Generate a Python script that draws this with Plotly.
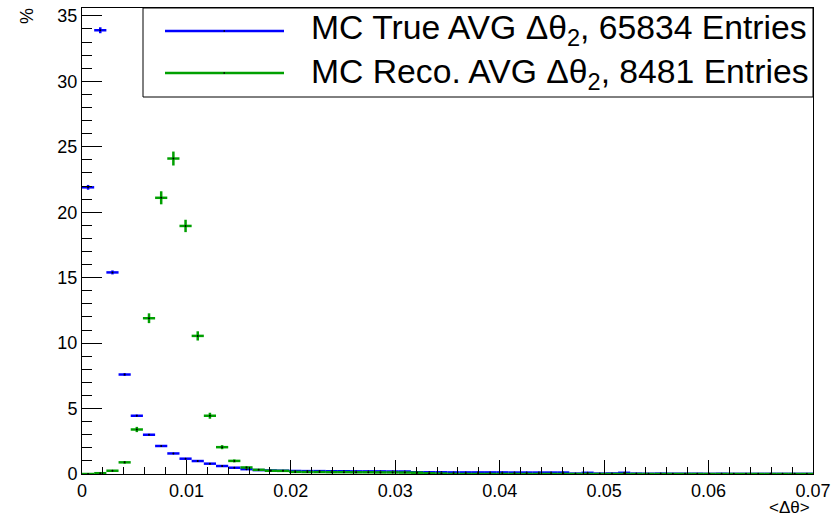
import numpy as np
import plotly.graph_objects as go

# ---- data (percent per bin, 60 bins from 0 to 0.07) ----
x_min, x_max, n_bins = 0.0, 0.07, 60
true_entries = 65834
reco_entries = 8481

true_pct = [21.9, 33.9, 15.4, 7.6, 4.45, 3.0, 2.14, 1.57, 1.17, 0.99,
            0.79, 0.61, 0.48, 0.37, 0.30, 0.27, 0.25, 0.23, 0.22, 0.22,
            0.21, 0.21, 0.20, 0.20, 0.20, 0.19, 0.19, 0.13, 0.13, 0.13,
            0.12, 0.12, 0.12, 0.12, 0.12, 0.11, 0.11, 0.11, 0.11, 0.11,
            0.03, 0.09, 0.03, 0.04, 0.09, 0.03, 0.02, 0.03, 0.02, 0.02,
            0.02, 0.01, 0.02, 0.01, 0.01, 0.01, 0.01, 0.01, 0.01, 0.01]

reco_pct = [0.0, 0.06, 0.25, 0.89, 3.4, 11.9, 21.1, 24.1, 18.95, 10.55,
            4.45, 2.05, 1.0, 0.5, 0.32, 0.25, 0.24, 0.16, 0.15, 0.15,
            0.14, 0.14, 0.13, 0.13, 0.12, 0.12, 0.11, 0.10, 0.05, 0.03,
            0.0, 0.0, 0.0, 0.0, 0.0, 0.0, 0.0, 0.0, 0.0, 0.0,
            0.0, 0.0, 0.0, 0.0, 0.0, 0.0, 0.0, 0.0, 0.0, 0.0,
            0.0, 0.0, 0.0, 0.0, 0.0, 0.0, 0.0, 0.0, 0.0, 0.0]

labels = ["MC True AVG \u0394\u03b8<sub>2</sub>, 65834 Entries",
          "MC Reco. AVG \u0394\u03b8<sub>2</sub>, 8481 Entries"]
colors = ["#0000ff", "#00a000"]

bw = (x_max - x_min) / n_bins
centers = x_min + bw * (np.arange(n_bins) + 0.5)


def stat_err(pct, n):
    p = np.asarray(pct) / 100.0
    return np.sqrt(p * n) / n * 100.0


fig = go.Figure()
for vals, n, col in [(true_pct, true_entries, colors[0]), (reco_pct, reco_entries, colors[1])]:
    fig.add_trace(go.Scatter(
        x=centers, y=vals, mode="markers",
        marker=dict(color="black", size=2),
        error_x=dict(type="constant", value=bw / 2, color=col, thickness=2.5, width=0),
        error_y=dict(type="data", array=stat_err(vals, n), color=col, thickness=2.5, width=0),
        showlegend=False, hoverinfo="x+y"))

# pixel -> paper helpers
L, R, T, B = 82, 813, 8, 474
def px(v):
    return (v - L) / (R - L)
def py(v):
    return (B - v) / (B - T)

FONT = "Liberation Sans, Arial"
shapes = [dict(type="rect", xref="paper", yref="paper",
               x0=px(143), x1=px(813), y0=py(97), y1=py(8),
               line=dict(color="black", width=1), fillcolor="white", layer="above")]
annotations = []
for i, (lab, col) in enumerate(zip(labels, colors)):
    yl = [31, 73][i]
    shapes.append(dict(type="line", xref="paper", yref="paper",
                       x0=px(165), x1=px(284), y0=py(yl), y1=py(yl),
                       line=dict(color=col, width=2.5), layer="above"))
    shapes.append(dict(type="rect", xref="paper", yref="paper",
                       x0=px(223.5), x1=px(225), y0=py(yl - 0.75), y1=py(yl + 0.75),
                       line=dict(width=0), fillcolor="black", layer="above"))
    annotations.append(dict(text=lab, xref="paper", yref="paper",
                            x=px(309), y=py([30, 73][i]), xanchor="left", yanchor="middle",
                            showarrow=False,
                            font=dict(family=FONT, size=33.7, color="black")))

annotations.append(dict(text="%", xref="paper", yref="paper", x=px(27), y=py(16),
                        textangle=-90, showarrow=False, xanchor="center", yanchor="middle",
                        font=dict(family=FONT, size=18, color="black")))
annotations.append(dict(text="<\u0394\u03b8>", xref="paper", yref="paper", x=px(812), y=py(507),
                        showarrow=False, xanchor="right", yanchor="middle",
                        font=dict(family=FONT, size=17, color="black")))

fig.update_layout(
    width=834, height=517,
    margin=dict(l=L, r=834 - R, t=T, b=517 - B, autoexpand=False),
    paper_bgcolor="white", plot_bgcolor="white",
    font=dict(family=FONT, size=18, color="black"),
    shapes=shapes, annotations=annotations,
    xaxis=dict(range=[x_min, x_max], dtick=0.01, tick0=0, ticks="inside", ticklen=14,
               tickwidth=1, tickcolor="black", showgrid=False, zeroline=False,
               showline=True, mirror=True, linecolor="black", linewidth=1, automargin=False,
               minor=dict(dtick=0.002, ticklen=7, ticks="inside", tickcolor="black", tickwidth=1),
               tickfont=dict(size=18)),
    yaxis=dict(range=[0, 35.6], dtick=5, tick0=0, ticks="inside", ticklen=20,
               tickwidth=1, tickcolor="black", showgrid=False, zeroline=False,
               showline=True, mirror=True, linecolor="black", linewidth=1, automargin=False,
               minor=dict(dtick=1, ticklen=10, ticks="inside", tickcolor="black", tickwidth=1),
               tickfont=dict(size=18)),
)

fig.write_html("out.html", config={"displayModeBar": False},
               post_script="document.body.style.margin='0';document.body.style.overflow='hidden';")
